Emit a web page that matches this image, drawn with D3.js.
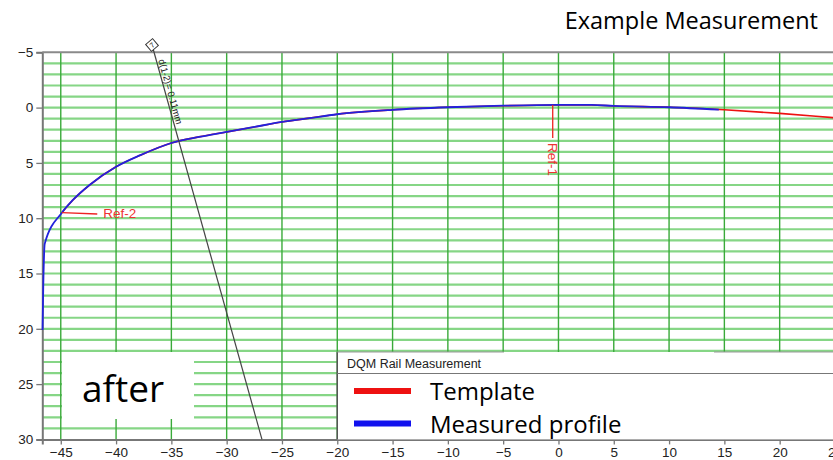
<!DOCTYPE html>
<html>
<head>
<meta charset="utf-8">
<script src="https://cdn.jsdelivr.net/npm/d3@7"></script>
<style>
  body { margin: 0; background: #fff; }
  svg { display: block; }
</style>
</head>
<body>
<script>
// measured rail profile (blue)
const measuredX = [-46.65, -46.58, -46.45, -44.9, -43.9, -42.4, -40, -37.8, -35, -32.5, -30, -27.5, -25, -22.5, -20, -15, -10, -5, 0, 3, 5, 10, 14.5];
const measuredY = [20.1, 16.0, 12.3, 9.5, 8.35, 7.0, 5.35, 4.3, 3.2, 2.65, 2.2, 1.75, 1.3, 0.95, 0.6, 0.2, -0.03, -0.17, -0.24, -0.24, -0.15, -0.03, 0.18];

// template profile (red)
const templateX = [-44.9, -43.9, -42.4, -40, -37.8, -35, -32.5, -30, -27.5, -25, -22.5, -20, -15, -10, -5, 0, 3, 5, 10, 15, 20, 25, 26];
const templateY = [9.5, 8.35, 7.0, 5.35, 4.3, 3.2, 2.65, 2.2, 1.75, 1.3, 0.95, 0.6, 0.2, -0.03, -0.17, -0.24, -0.24, -0.15, -0.03, 0.2, 0.52, 0.92, 1.0];

const xTicks = [-45, -40, -35, -30, -25, -20, -15, -10, -5, 0, 5, 10, 15, 20, 25];
const yTicks = [-5, 0, 5, 10, 15, 20, 25, 30];
const yGrid = [-4, -3, -2, -1, 0, 1, 2, 3, 4, 5, 6, 7, 8, 9, 10, 11, 12, 13, 14, 15, 16, 17, 18, 19, 20, 21, 22, 23, 24, 25, 26, 27, 28, 29];

// distance measurement line d(1-2) and reference marks
const distLine = [[-36.75, -5.66], [-26.81, 30]];
const distLabel = "d(1-2)= 0.11mm";
const ref1 = {x: -0.52, y0: -0.24, y1: 2.75, label: "Ref-1"};
const ref2 = {x0: -44.9, y0: 9.5, x1: -41.7, y1: 9.62, label: "Ref-2"};

const title = "Example Measurement";
const legendTitle = "DQM Rail Measurement";
const legendItems = [
  {name: "Template", color: "#ee1111"},
  {name: "Measured profile", color: "#1111ee"}
];
const stamp = "after";

const width = 833, height = 460;
const unit = 11.06;

const x = d3.scaleLinear().domain([-46.67, 26]).range([42.3, 42.3 + 72.67 * unit]);
const y = d3.scaleLinear().domain([-5, 30]).range([52.3, 52.3 + 35 * unit]);

const svg = d3.select("body").append("svg")
    .attr("width", width)
    .attr("height", height)
    .attr("viewBox", [0, 0, width, height]);

// grid
svg.append("g")
    .attr("stroke", "#86d686")
    .attr("stroke-width", 2.2)
  .selectAll("line")
  .data(yGrid)
  .join("line")
    .attr("x1", x.range()[0])
    .attr("x2", width)
    .attr("y1", d => y(d))
    .attr("y2", d => y(d));

svg.append("g")
    .attr("stroke", "#3aaa3a")
    .attr("stroke-width", 1.4)
  .selectAll("line")
  .data(xTicks)
  .join("line")
    .attr("x1", d => x(d))
    .attr("x2", d => x(d))
    .attr("y1", y(-5))
    .attr("y2", y(30));

// axes
const yAxis = svg.append("g")
    .attr("transform", `translate(${x.range()[0]},0)`)
    .call(d3.axisLeft(y).tickValues(yTicks).tickSize(6).tickPadding(3));

const xAxis = svg.append("g")
    .attr("transform", `translate(0,${y(30)})`)
    .call(d3.axisBottom(x).tickValues(xTicks).tickSize(5).tickPadding(3));

[xAxis, yAxis].forEach(a => {
  a.select(".domain").attr("stroke", "#777").attr("stroke-width", 2);
  a.selectAll(".tick line").attr("stroke", "#777").attr("stroke-width", 1.3);
  a.selectAll(".tick text")
    .attr("fill", "#222")
    .style("font-family", "'Liberation Sans', Arial, sans-serif")
    .style("font-size", "13.5px");
});

// top border
svg.append("line")
    .attr("x1", x.range()[0]).attr("x2", width)
    .attr("y1", y(-5)).attr("y2", y(-5))
    .attr("stroke", "#8a8a8a")
    .attr("stroke-width", 2);

// profiles
const line = d3.line().curve(d3.curveMonotoneX);

svg.append("path")
    .attr("d", line(templateX.map((d, i) => [x(d), y(templateY[i])])))
    .attr("fill", "none")
    .attr("stroke", legendItems[0].color)
    .attr("stroke-width", 1.6);

svg.append("path")
    .attr("d", line(measuredX.map((d, i) => [x(d), y(measuredY[i])])))
    .attr("fill", "none")
    .attr("stroke", "#2222dd")
    .attr("stroke-width", 1.8);

// reference marks
svg.append("line")
    .attr("x1", x(ref1.x)).attr("x2", x(ref1.x))
    .attr("y1", y(ref1.y0)).attr("y2", y(ref1.y1))
    .attr("stroke", "#e22")
    .attr("stroke-width", 1.3);

svg.append("text")
    .attr("transform", `translate(${x(ref1.x)},${y(ref1.y1) + 5}) rotate(90)`)
    .attr("dominant-baseline", "central")
    .attr("fill", "#e33")
    .style("font-family", "'Liberation Sans', Arial, sans-serif")
    .style("font-size", "13.5px")
    .text(ref1.label);

svg.append("line")
    .attr("x1", x(ref2.x0)).attr("x2", x(ref2.x1))
    .attr("y1", y(ref2.y0)).attr("y2", y(ref2.y1))
    .attr("stroke", "#e22")
    .attr("stroke-width", 1.3);

svg.append("text")
    .attr("x", x(ref2.x1) + 6)
    .attr("y", y(ref2.y1))
    .attr("dominant-baseline", "central")
    .attr("fill", "#e33")
    .style("font-family", "'Liberation Sans', Arial, sans-serif")
    .style("font-size", "13.5px")
    .text(ref2.label);

// distance line with marker and label
const [p0, p1] = distLine.map(d => [x(d[0]), y(d[1])]);
const angle = Math.atan2(p1[1] - p0[1], p1[0] - p0[0]) * 180 / Math.PI;

svg.append("line")
    .attr("x1", p0[0]).attr("y1", p0[1])
    .attr("x2", p1[0]).attr("y2", p1[1])
    .attr("stroke", "#444")
    .attr("stroke-width", 1.2);

const marker = svg.append("g")
    .attr("transform", `translate(${p0[0]},${p0[1]}) rotate(-40)`);
marker.append("rect")
    .attr("x", -4.5).attr("y", -4.5)
    .attr("width", 9).attr("height", 9)
    .attr("fill", "#fff")
    .attr("stroke", "#333")
    .attr("stroke-width", 1);
marker.append("text")
    .attr("text-anchor", "middle")
    .attr("dominant-baseline", "central")
    .style("font-family", "'Liberation Sans', Arial, sans-serif")
    .style("font-size", "7px")
    .text("7");

const t = 0.04;
svg.append("text")
    .attr("transform", `translate(${p0[0] + (p1[0] - p0[0]) * t},${p0[1] + (p1[1] - p0[1]) * t}) rotate(${angle})`)
    .attr("dy", -2)
    .attr("fill", "#222")
    .style("font-family", "'Liberation Sans', Arial, sans-serif")
    .style("font-size", "9.5px")
    .text(distLabel);

// "after" stamp
svg.append("rect")
    .attr("x", 62).attr("y", 352)
    .attr("width", 132).attr("height", 67)
    .attr("fill", "#fff");
svg.append("text")
    .attr("x", 82).attr("y", 402)
    .attr("fill", "#000")
    .style("font-family", "'Open Sans', sans-serif")
    .style("font-size", "37px")
    .text(stamp);

// legend
const lg = svg.append("g");
lg.append("rect")
    .attr("x", x(-20)).attr("y", 352)
    .attr("width", width - x(-20)).attr("height", y(30) - 352)
    .attr("fill", "#fff");
lg.append("line")
    .attr("x1", x(-20)).attr("x2", x(-20))
    .attr("y1", 352).attr("y2", y(30))
    .attr("stroke", "#555").attr("stroke-width", 1.5);
lg.append("line")
    .attr("x1", x(-20)).attr("x2", 504)
    .attr("y1", 352).attr("y2", 352)
    .attr("stroke", "#999").attr("stroke-width", 1);
lg.append("line")
    .attr("x1", 714).attr("x2", width)
    .attr("y1", 352).attr("y2", 352)
    .attr("stroke", "#999").attr("stroke-width", 1);
lg.append("line")
    .attr("x1", x(-20)).attr("x2", width)
    .attr("y1", 373.5).attr("y2", 373.5)
    .attr("stroke", "#777").attr("stroke-width", 1);
lg.append("text")
    .attr("x", 347).attr("y", 368)
    .attr("fill", "#222")
    .style("font-family", "'Liberation Sans', Arial, sans-serif")
    .style("font-size", "12.5px")
    .text(legendTitle);

const item = lg.selectAll("g.item")
  .data(legendItems)
  .join("g")
    .attr("class", "item")
    .attr("transform", (d, i) => `translate(0,${391 + i * 32.5})`);
item.append("line")
    .attr("x1", 354).attr("x2", 411)
    .attr("stroke", d => d.color)
    .attr("stroke-width", 6);
item.append("text")
    .attr("x", 430)
    .attr("y", 9)
    .attr("fill", "#000")
    .style("font-family", "'Open Sans', sans-serif")
    .style("font-size", "24px")
    .text(d => d.name);

// title
svg.append("text")
    .attr("x", 818).attr("y", 29)
    .attr("text-anchor", "end")
    .attr("fill", "#000")
    .style("font-family", "'Open Sans', sans-serif")
    .style("font-size", "23.5px")
    .text(title);
</script>
</body>
</html>
